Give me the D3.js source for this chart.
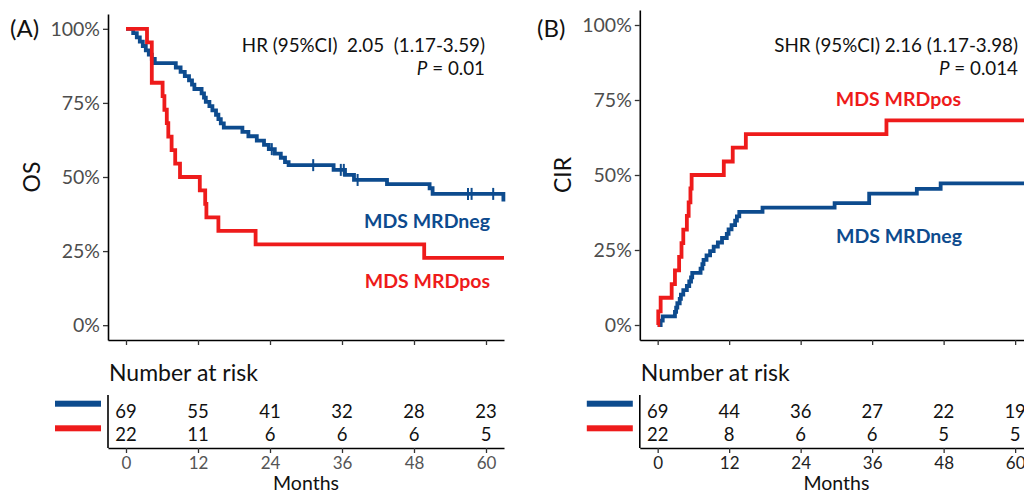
<!DOCTYPE html>
<html>
<head>
<meta charset="utf-8">
<script src="https://cdn.jsdelivr.net/npm/d3@7"></script>
<style>
  html, body { margin: 0; padding: 0; background: #fff; }
  svg { display: block; font-family: Lato, "Open Sans", sans-serif; }
  .pre { white-space: pre; }
</style>
</head>
<body>
<svg id="chart" width="1024" height="495"></svg>
<script>
// ---- data ----
const yTicks = [0, 25, 50, 75, 100];
const monthTicks = [0, 12, 24, 36, 48, 60];

// Overall survival, MDS MRDneg (months, % surviving)
const osNegTime = [0,1.2,1.8,2.3,2.8,3.3,3.8,4.3,4.8,8.3,9.1,9.8,10.5,11.0,11.4,12.6,13.0,13.3,13.9,14.4,15.0,15.4,15.8,16.3,19.4,20.4,21.8,23.0,23.8,24.8,25.8,26.5,27.1,34.6,36.5,38.0,43.5,50.6,51.1,62.9];
const osNegSurv = [100,98.55,97.1,95.65,94.2,92.75,91.3,89.85,88.4,86.95,85.5,84.05,82.6,81.15,79.7,78.25,76.8,75.35,73.9,72.45,71.0,69.55,68.1,66.65,65.2,63.75,62.3,60.85,59.4,57.9,56.5,55.0,54.0,52.4,50.7,49.0,47.6,46.2,44.3,41.7];
const osNegCensor = [24.3, 31.2, 35.8, 36.3, 38.6, 57.0, 57.6, 61.2];

// Overall survival, MDS MRDpos
const osPosTime = [0,3.5,4.3,6.1,6.4,6.8,7.05,7.6,8.2,9.0,12.3,13.2,13.4,15.4,21.6,49.7,63.0];
const osPosSurv = [100,95.45,81.8,77.3,72.7,68.2,63.6,59.1,54.5,50,45.5,40.9,36.4,31.8,27.3,22.7,22.7];

// Cumulative incidence of relapse, MDS MRDneg (months, %)
const cirNegTime = [0,0.5,0.85,2.9,3.1,3.3,3.7,3.9,4.3,4.9,5.3,5.6,5.8,7.2,7.5,7.7,8.2,8.8,9.4,10.1,10.8,11.6,11.9,12.4,13.0,13.3,13.7,17.6,29.7,35.5,43.5,47.5,64];
const cirNegInc = [0,1.45,2.9,4.35,5.8,7.25,8.7,10.1,11.6,13.0,14.5,15.9,17.4,18.8,20.3,21.7,23.2,24.6,26.1,27.5,29.0,30.4,31.9,33.3,34.8,36.2,37.7,39.1,40.6,43.8,45.4,47.2,47.2];

// Cumulative incidence of relapse, MDS MRDpos
const cirPosTime = [0,0.1,0.5,2.35,2.9,3.6,4.0,4.3,4.9,5.2,5.5,5.7,11.1,12.6,14.8,38.4,64];
const cirPosInc = [0,4.55,9.09,13.6,18.2,22.7,27.3,31.8,36.4,40.9,45.5,50,54.5,59.1,63.6,68.2,68.2];

// Numbers at risk at each month tick
const riskOsNeg = [69, 55, 41, 32, 28, 23];
const riskOsPos = [22, 11, 6, 6, 6, 5];
const riskCirNeg = [69, 44, 36, 27, 22, 19];
const riskCirPos = [22, 8, 6, 6, 5, 5];

// ---- styling ----
const BLUE = "#0d4b8e";
const RED = "#ee1b1b";
const GREY = "#4d4d4d";
const FONT = "Lato, 'Open Sans', sans-serif";

const svg = d3.select("#chart");

function stepValueAt(times, vals, t) {
  let v = vals[0];
  for (let i = 0; i < times.length; i++) if (times[i] <= t) v = vals[i];
  return v;
}

function drawPanel(p) {
  const g = svg.append("g");
  const x = d3.scaleLinear().domain([-3, 63]).range(p.xRange);
  const y = d3.scaleLinear().domain([-5, 105]).range(p.yRange);

  // y axis
  const yAxis = g.append("g")
    .attr("transform", `translate(${p.xRange[0]},0)`)
    .call(d3.axisLeft(y).tickValues(yTicks).tickFormat(d => d + "%")
      .tickSize(5).tickSizeOuter(0).tickPadding(3));
  yAxis.attr("font-family", null).attr("font-size", null);
  yAxis.select(".domain").attr("stroke", "#000").attr("stroke-width", 1.6);
  yAxis.selectAll(".tick line").attr("stroke", "#333").attr("stroke-width", 1.3);
  yAxis.selectAll(".tick text").style("font-size", "19.5px").attr("fill", GREY)
    .style("font-family", FONT);

  // x axis of the plot (ticks only)
  const xAxis = g.append("g")
    .attr("transform", `translate(0,${p.yRange[0]})`)
    .call(d3.axisBottom(x).tickValues(monthTicks).tickFormat("")
      .tickSize(5).tickSizeOuter(0));
  xAxis.select(".domain").attr("stroke", "#000").attr("stroke-width", 1.6);
  xAxis.selectAll(".tick line").attr("stroke", "#333").attr("stroke-width", 1.3);

  // curves
  const line = d3.line().x(d => x(d[0])).y(d => y(d[1])).curve(d3.curveStepAfter);
  p.series.forEach(s => {
    const pts = s.time.map((t, i) => [t, s.val[i]]);
    g.append("path").datum(pts)
      .attr("d", line)
      .attr("fill", "none")
      .attr("stroke", s.color)
      .attr("stroke-width", 3.8)
      .attr("stroke-linejoin", "miter");
    if (s.censor) {
      g.selectAll(null).data(s.censor).enter().append("line")
        .attr("x1", d => x(d)).attr("x2", d => x(d))
        .attr("y1", d => y(stepValueAt(s.time, s.val, d)) - 6)
        .attr("y2", d => y(stepValueAt(s.time, s.val, d)) + 6)
        .attr("stroke", s.color).attr("stroke-width", 2);
    }
  });

  // panel letter
  g.append("text").attr("x", p.letterX).attr("y", 37)
    .style("font-size", "24px").attr("fill", "#111").text(p.letter);

  // y title
  g.append("text")
    .attr("transform", `translate(${p.titleX},${(y(0) + y(100)) / 2}) rotate(-90)`)
    .attr("text-anchor", "middle").style("font-size", "23px").attr("fill", "#111")
    .text(p.yTitle);

  // hazard ratio annotation
  g.append("text").attr("class", "pre")
    .attr("x", p.statX).attr("y", 52).attr("text-anchor", "end")
    .style("font-size", "18.8px").attr("fill", "#111").text(p.statText);
  const pt = g.append("text").attr("x", p.statX).attr("y", 75)
    .attr("text-anchor", "end").style("font-size", "18.8px").attr("fill", "#111");
  pt.append("tspan").attr("font-style", "italic").text("P");
  pt.append("tspan").text(" = " + p.pValue);

  // group labels
  p.labels.forEach(l => {
    g.append("text").attr("x", l.x).attr("y", l.y).attr("text-anchor", "end")
      .style("font-size", "19.5px").attr("font-weight", 700).attr("fill", l.color)
      .text(l.text);
  });

  // number-at-risk table
  const tTop = 395, tAxisY = 448;
  g.append("text").attr("x", p.xRange[0] + 1).attr("y", 381)
    .style("font-size", "23px").attr("fill", "#111").text("Number at risk");

  const rAxis = g.append("g")
    .attr("transform", `translate(0,${tAxisY})`)
    .call(d3.axisBottom(x).tickValues(monthTicks).tickSize(5)
      .tickSizeOuter(0).tickPadding(4));
  rAxis.attr("font-family", null).attr("font-size", null);
  rAxis.select(".domain").attr("stroke", "#000").attr("stroke-width", 1.6);
  rAxis.selectAll(".tick line").attr("stroke", "#333").attr("stroke-width", 1.3);
  rAxis.selectAll(".tick text").style("font-size", "17px").attr("fill", p.monthColor)
    .style("font-family", FONT);

  g.append("line").attr("x1", p.xRange[0]).attr("x2", p.xRange[0])
    .attr("y1", tTop).attr("y2", tAxisY)
    .attr("stroke", "#000").attr("stroke-width", 1.6);

  const rows = [
    { vals: p.riskNeg, color: BLUE, y: 418, barY: 403.7 },
    { vals: p.riskPos, color: RED, y: 441, barY: 428.3 }
  ];
  rows.forEach(r => {
    g.selectAll(null).data(r.vals).enter().append("text")
      .attr("x", (d, i) => x(monthTicks[i])).attr("y", r.y)
      .attr("text-anchor", "middle").style("font-size", "18.5px").attr("fill", "#111")
      .text(d => d);
    g.append("rect").attr("x", p.xRange[0] - 53).attr("y", r.barY - 3)
      .attr("width", 46).attr("height", 6).attr("fill", r.color);
  });

  g.append("text").attr("x", (x(0) + x(60)) / 2).attr("y", 490)
    .attr("text-anchor", "middle").style("font-size", "19.5px").attr("fill", "#111")
    .text("Months");
}

drawPanel({
  xRange: [108, 504], yRange: [340, 14],
  letter: "(A)", letterX: 10, yTitle: "OS", titleX: 40,
  statX: 485, statText: "HR (95%CI)  2.05  (1.17-3.59)", pValue: "0.01",
  series: [
    { time: osNegTime, val: osNegSurv, color: BLUE, censor: osNegCensor },
    { time: osPosTime, val: osPosSurv, color: RED }
  ],
  labels: [
    { text: "MDS MRDneg", color: BLUE, x: 490, y: 228 },
    { text: "MDS MRDpos", color: RED, x: 490, y: 288 }
  ],
  riskNeg: riskOsNeg, riskPos: riskOsPos, monthColor: "#555"
});

drawPanel({
  xRange: [639.8, 1033], yRange: [340, 10],
  letter: "(B)", letterX: 537, yTitle: "CIR", titleX: 571,
  statX: 1018, statText: "SHR (95%CI) 2.16 (1.17-3.98)", pValue: "0.014",
  series: [
    { time: cirNegTime, val: cirNegInc, color: BLUE },
    { time: cirPosTime, val: cirPosInc, color: RED }
  ],
  labels: [
    { text: "MDS MRDpos", color: RED, x: 961, y: 106 },
    { text: "MDS MRDneg", color: BLUE, x: 962, y: 243 }
  ],
  riskNeg: riskCirNeg, riskPos: riskCirPos, monthColor: "#222"
});
</script>
</body>
</html>
